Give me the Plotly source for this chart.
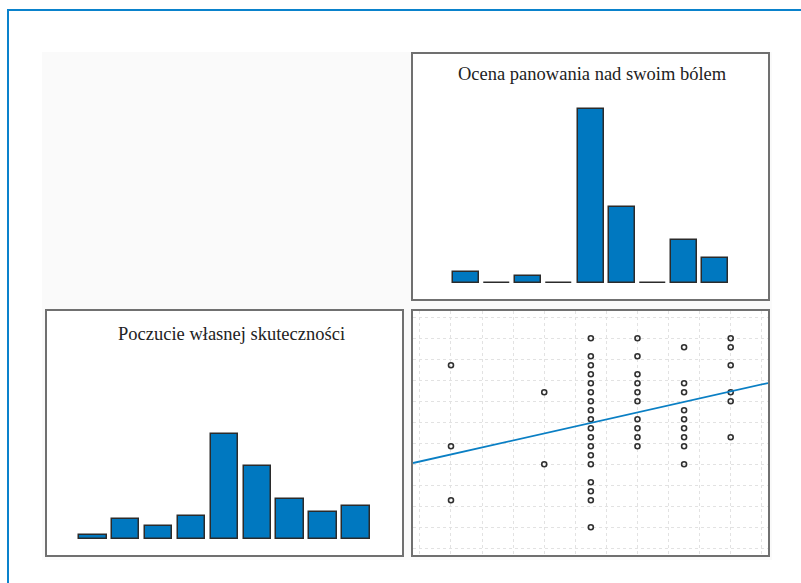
import numpy as np
import plotly.graph_objects as go

# ---- data ---------------------------------------------------------------
pain_title = "Ocena panowania nad swoim bólem"
eff_title = "Poczucie własnej skuteczności"

# histogram of pain-control rating (9 bins over 0..6)
pain_breaks = list(np.linspace(0, 6, 10))
pain_counts = [3, 0, 2, 0, 48, 21, 0, 12, 7]

# histogram of self-efficacy score (9 bins over 10..31)
eff_breaks = list(np.linspace(10, 31, 10))
eff_counts = [1, 6, 4, 7, 32, 22, 12, 8, 10]

# distinct (pain, efficacy) pairs for the scatter panel
pain_x = ([0] * 3 + [2] * 2 + [3] * 18 + [4] * 10 + [5] * 9 + [6] * 6)
eff_y = ([28, 19, 13] +
         [25, 17] +
         [31, 29, 28, 27, 26, 25, 24, 23, 22, 21, 20, 19, 18, 17, 15, 14, 13, 10] +
         [31, 29, 27, 26, 25, 24, 22, 21, 20, 19] +
         [30, 26, 25, 23, 22, 21, 20, 19, 17] +
         [31, 30, 28, 25, 24, 20])

# linear fit of efficacy on pain rating
fit_intercept = 18.09
fit_slope = 1.167

# ---- styling --------------------------------------------------------------
BAR_FILL = "#0078c0"
BAR_EDGE = "#2b2b2b"
FRAME = "#707070"
LINE_BLUE = "#0a7fc4"
W, H = 801, 583

def px_x(p):
    return p / W

def px_y(p):
    return 1 - p / H

fig = go.Figure()

# top-right: pain histogram
p_w = pain_breaks[1] - pain_breaks[0]
p_centers = [(a + b) / 2 for a, b in zip(pain_breaks[:-1], pain_breaks[1:])]
fig.add_trace(go.Bar(x=p_centers, y=pain_counts, width=p_w * 0.83,
                     marker=dict(color=BAR_FILL, line=dict(color=BAR_EDGE, width=1.5)),
                     xaxis="x", yaxis="y"))

# bottom-left: efficacy histogram
e_w = eff_breaks[1] - eff_breaks[0]
e_centers = [(a + b) / 2 for a, b in zip(eff_breaks[:-1], eff_breaks[1:])]
fig.add_trace(go.Bar(x=e_centers, y=eff_counts, width=e_w * 0.835,
                     marker=dict(color=BAR_FILL, line=dict(color=BAR_EDGE, width=1.5)),
                     xaxis="x2", yaxis="y2"))

# bottom-right: scatter with fitted line
fig.add_trace(go.Scatter(x=pain_x, y=eff_y, mode="markers",
                         marker=dict(symbol="circle-open", size=5,
                                     color="#303030", line=dict(width=1.6)),
                         xaxis="x3", yaxis="y3"))
sx_range = [-0.815, 6.80]
fig.add_trace(go.Scatter(x=sx_range,
                         y=[fit_intercept + fit_slope * v for v in sx_range],
                         mode="lines", line=dict(color=LINE_BLUE, width=1.8),
                         xaxis="x3", yaxis="y3"))

frame = dict(showline=True, linecolor=FRAME, linewidth=1.6, mirror=True,
             showticklabels=False, ticks="", zeroline=False)

right_dom = [px_x(413), px_x(768)]
left_dom = [px_x(47), px_x(402)]
top_dom = [px_y(299), px_y(54)]
bot_dom = [px_y(555), px_y(311)]

grid = dict(showgrid=True, gridcolor="#e2e2e2", griddash="dot", gridwidth=1)

fig.update_layout(
    width=W, height=H, margin=dict(l=0, r=0, t=0, b=0),
    paper_bgcolor="white", plot_bgcolor="white", showlegend=False,
    bargap=0,
    xaxis=dict(domain=right_dom, anchor="y", range=[-0.793, 6.79],
               showgrid=False, **frame),
    yaxis=dict(domain=top_dom, anchor="x", range=[-4.41, 63.2],
               showgrid=False, **frame),
    xaxis2=dict(domain=left_dom, anchor="y2", range=[7.92, 33.1],
                showgrid=False, **frame),
    yaxis2=dict(domain=bot_dom, anchor="x2", range=[-4.94, 69.3],
                showgrid=False, **frame),
    xaxis3=dict(domain=right_dom, anchor="y3", range=sx_range,
                tick0=0, dtick=2 / 3, **grid, **frame),
    yaxis3=dict(domain=bot_dom, anchor="x3", range=[6.92, 34.03],
                tick0=10, dtick=7 / 3, **grid, **frame),
)

shapes = [
    # light backdrop behind the panel grid
    dict(type="rect", xref="paper", yref="paper",
         x0=px_x(42), x1=px_x(772), y0=px_y(560), y1=px_y(52),
         fillcolor="#fafafa", line=dict(width=0), layer="below"),
    # outer blue frame
    dict(type="rect", xref="paper", yref="paper",
         x0=px_x(8), x1=1.2, y0=-0.2, y1=px_y(10),
         fillcolor="rgba(0,0,0,0)", line=dict(color="#0a82cc", width=2), layer="above"),
]
# white interior for each panel
for xr, yr in [("x", "y"), ("x2", "y2"), ("x3", "y3")]:
    shapes.append(dict(type="rect", xref=xr + " domain", yref=yr + " domain",
                       x0=0, x1=1, y0=0, y1=1, fillcolor="white",
                       line=dict(width=0), layer="below"))
fig.update_layout(shapes=shapes)

title_font = dict(family="Liberation Serif", size=18.5, color="#222222")
fig.add_annotation(text=pain_title, xref="paper", yref="paper",
                   x=px_x(592.5), y=px_y(74), xanchor="center", yanchor="middle",
                   showarrow=False, font=title_font)
fig.add_annotation(text=eff_title, xref="paper", yref="paper",
                   x=px_x(231.7), y=px_y(334), xanchor="center", yanchor="middle",
                   showarrow=False, font=title_font)

fig.write_html("out.html")
